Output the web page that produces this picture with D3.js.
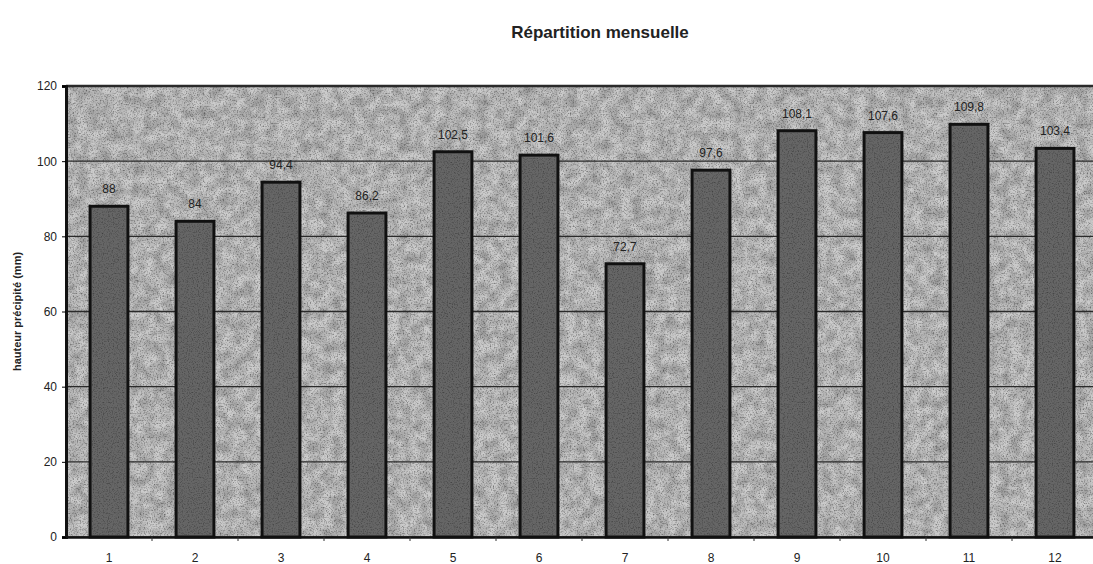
<!DOCTYPE html>
<html>
<head>
<meta charset="utf-8">
<script src="https://cdn.jsdelivr.net/npm/d3@7"></script>
<style>
  body { margin: 0; background: #fff; }
  text { font-family: "Liberation Sans", Arial, sans-serif; }
</style>
</head>
<body>
<div id="chart"></div>
<script>
var months = ["1", "2", "3", "4", "5", "6", "7", "8", "9", "10", "11", "12"];
var precip = [88, 84, 94.4, 86.2, 102.5, 101.6, 72.7, 97.6, 108.1, 107.6, 109.8, 103.4];
var yTicks = [0, 20, 40, 60, 80, 100, 120];

var W = 1093, H = 564;
var margin = {top: 86, right: -5, bottom: 27, left: 66},
    width = W - margin.left - margin.right,
    height = H - margin.top - margin.bottom;

var svg = d3.select("#chart")
  .append("svg")
    .attr("width", W)
    .attr("height", H);

// grainy texture like the scanned original
var defs = svg.append("defs");
function grain(id, freq, seed, a, b) {
  var f = defs.append("filter").attr("id", id)
      .attr("x", 0).attr("y", 0).attr("width", 1).attr("height", 1);
  f.append("feTurbulence")
      .attr("type", "fractalNoise")
      .attr("baseFrequency", freq)
      .attr("numOctaves", 3)
      .attr("seed", seed)
      .attr("result", "noise");
  f.append("feColorMatrix")
      .attr("in", "noise")
      .attr("type", "matrix")
      .attr("values", "0 0 0 0 0  0 0 0 0 0  0 0 0 0 0  0 0 0 " + a + " " + b)
      .attr("result", "dots");
  f.append("feComposite").attr("in", "dots").attr("in2", "SourceGraphic").attr("operator", "in");
}
grain("grainFine", 0.7, 3, -1.6, 0.85);
grain("grainCoarse", 0.09, 7, 1.4, -0.4);
grain("grainBar", 0.8, 11, -1.6, 0.85);

var g = svg.append("g")
    .attr("transform", "translate(" + margin.left + "," + margin.top + ")");

var x = d3.scaleBand()
    .domain(months)
    .range([0, width])
    .paddingInner(0.56)
    .paddingOuter(0.28);

var y = d3.scaleLinear()
    .domain([0, 120])
    .range([height, 0]);

// plot background
g.append("rect")
    .attr("x", 0).attr("y", 0)
    .attr("width", width).attr("height", height)
    .attr("fill", "#cbcbcb");
g.append("rect")
    .attr("x", 0).attr("y", 0)
    .attr("width", width).attr("height", height)
    .attr("fill", "#f6f6f6")
    .attr("filter", "url(#grainFine)")
    .attr("opacity", 0.6);
g.append("rect")
    .attr("x", 0).attr("y", 0)
    .attr("width", width).attr("height", height)
    .attr("fill", "#ffffff")
    .attr("filter", "url(#grainCoarse)")
    .attr("opacity", 0.3);

// grid lines
g.append("g")
  .selectAll("line")
  .data(yTicks)
  .enter().append("line")
    .attr("x1", 0)
    .attr("x2", width)
    .attr("y1", function(d) { return y(d); })
    .attr("y2", function(d) { return y(d); })
    .attr("stroke", "#2a2a2a")
    .attr("stroke-width", function(d) { return d == 120 ? 2.5 : 1.4; });

// bars
var bars = g.append("g")
  .selectAll("g")
  .data(precip)
  .enter().append("g");

bars.append("rect")
    .attr("x", function(d, i) { return x(months[i]); })
    .attr("y", function(d) { return y(d); })
    .attr("width", x.bandwidth())
    .attr("height", function(d) { return height - y(d); })
    .attr("fill", "#666666")
    .attr("stroke", "#111")
    .attr("stroke-width", 3);

bars.append("rect")
    .attr("x", function(d, i) { return x(months[i]) + 2; })
    .attr("y", function(d) { return y(d) + 2; })
    .attr("width", x.bandwidth() - 4)
    .attr("height", function(d) { return height - y(d) - 4; })
    .attr("fill", "#999999")
    .attr("filter", "url(#grainBar)")
    .attr("opacity", 0.5);

bars.append("text")
    .attr("x", function(d, i) { return x(months[i]) + x.bandwidth() / 2; })
    .attr("y", function(d) { return y(d) - 13; })
    .attr("text-anchor", "middle")
    .attr("font-size", 12)
    .attr("fill", "#222")
    .text(function(d) { return String(d).replace(".", ","); });

// axes
var yAxis = g.append("g")
    .call(d3.axisLeft(y).tickValues(yTicks).tickSize(4).tickPadding(5));
yAxis.select(".domain").attr("stroke", "#111").attr("stroke-width", 3);
yAxis.selectAll("text").attr("font-size", 12).attr("fill", "#222");

var xAxis = g.append("g")
    .attr("transform", "translate(0," + height + ")")
    .call(d3.axisBottom(x).tickSize(0).tickPadding(16));
xAxis.select(".domain").attr("stroke", "#111").attr("stroke-width", 2.5);
xAxis.selectAll("text").attr("font-size", 12).attr("fill", "#222");

// small ticks between categories
g.append("g")
  .selectAll("line")
  .data(months.slice(1))
  .enter().append("line")
    .attr("x1", function(d) { return x(d) - x.step() * x.paddingInner() / 2; })
    .attr("x2", function(d) { return x(d) - x.step() * x.paddingInner() / 2; })
    .attr("y1", height)
    .attr("y2", height + 4)
    .attr("stroke", "#333");

// title
svg.append("text")
    .attr("x", 600)
    .attr("y", 38)
    .attr("text-anchor", "middle")
    .attr("font-size", 17)
    .attr("font-weight", "bold")
    .attr("fill", "#222")
    .text("Répartition mensuelle");

// y label
svg.append("text")
    .attr("transform", "translate(21," + (margin.top + height / 2) + ") rotate(-90)")
    .attr("text-anchor", "middle")
    .attr("font-size", 11)
    .attr("font-weight", "bold")
    .attr("fill", "#222")
    .text("hauteur précipité (mm)");
</script>
</body>
</html>
